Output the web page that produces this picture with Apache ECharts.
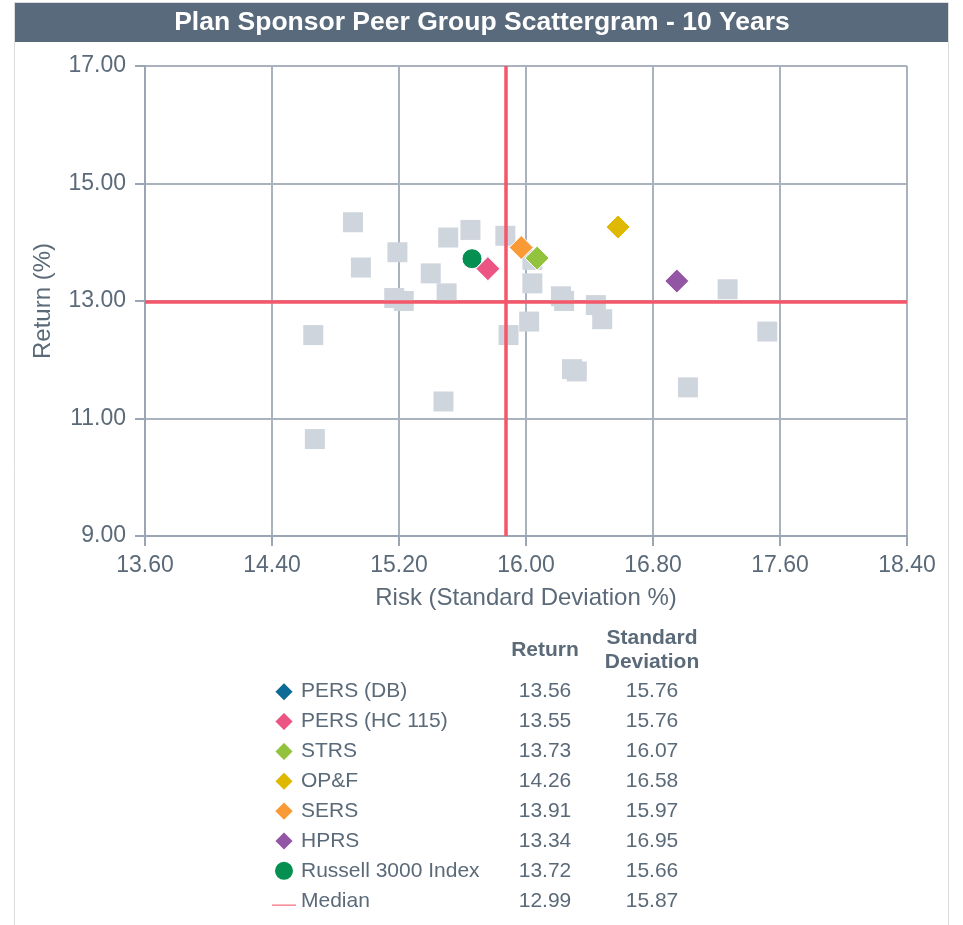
<!DOCTYPE html>
<html>
<head>
<meta charset="utf-8">
<script src="https://cdn.jsdelivr.net/npm/echarts@6/dist/echarts.min.js"></script>
<style>
html,body{margin:0;padding:0;background:#fff;}
#chart{width:963px;height:925px;}
</style>
</head>
<body>
<div id="chart"></div>
<script>
// ---- data ----
const titleText = 'Plan Sponsor Peer Group Scattergram - 10 Years';
const xAxisName = 'Risk (Standard Deviation %)';
const yAxisName = 'Return (%)';
const xTicks = [13.6, 14.4, 15.2, 16.0, 16.8, 17.6, 18.4];
const yTicks = [9, 11, 13, 15, 17];

const names = ['PERS (DB)', 'PERS (HC 115)', 'STRS', 'OP&F', 'SERS', 'HPRS', 'Russell 3000 Index'];
const returns = [13.56, 13.55, 13.73, 14.26, 13.91, 13.34, 13.72];
const stdDevs = [15.76, 15.76, 16.07, 16.58, 15.97, 16.95, 15.66];
const symbols = ['diamond', 'diamond', 'diamond', 'diamond', 'diamond', 'diamond', 'circle'];
const colors = ['#0d6b96', '#ec5484', '#93c23c', '#dfb800', '#fa9a35', '#9356a5', '#058f50'];
const drawOrder = [6, 0, 1, 4, 2, 3, 5];

const medianName = 'Median';
const medianReturn = 12.99;
const medianStd = 15.87;

const peerRisk = [14.91, 14.96, 15.19, 15.17, 15.23, 15.40, 15.51, 15.65, 15.50, 15.87, 16.04, 16.04, 16.22, 16.24, 16.44, 16.48, 16.02, 15.89, 16.29, 16.32, 17.02, 17.27, 17.52, 14.66, 15.48, 14.67];
const peerReturn = [14.34, 13.57, 13.83, 13.05, 13.00, 13.47, 14.08, 14.21, 13.13, 14.11, 13.70, 13.30, 13.08, 13.00, 12.93, 12.69, 12.65, 12.42, 11.84, 11.80, 11.53, 13.20, 12.48, 12.42, 11.29, 10.65];

const tableHeaders = ['Return', 'Standard\nDeviation'];

// ---- styles ----
const textColor = '#5b6a79';
const gridColor = '#aab2be';
const axisColor = '#9aa6b4';
const medianColor = '#f4566a';
const font = 'Liberation Sans, Arial, Helvetica, sans-serif';
const legendIcons = {
  diamond: 'path://M8,0L16,8L8,16L0,8Z',
  circle: 'path://M8,0A8,8,0,1,1,7.99,0Z'
};

const series = [];
series.push({
  name: 'Peer Group',
  type: 'scatter',
  symbol: 'rect',
  symbolSize: 20,
  itemStyle: { color: '#cfd5dd', opacity: 1 },
  emphasis: { disabled: true },
  data: peerRisk.map((r, i) => [r, peerReturn[i]]),
  z: 2
});
series.push({
  name: medianName,
  type: 'scatter',
  data: [],
  itemStyle: { color: medianColor, opacity: 1 },
  z: 3,
  markLine: {
    silent: true,
    symbol: ['none', 'none'],
    label: { show: false },
    lineStyle: { color: medianColor, width: 3.5, type: 'solid', opacity: 1 },
    data: [{ xAxis: medianStd }, { yAxis: medianReturn }],
    z: 3
  }
});
drawOrder.forEach(i => {
  series.push({
    name: names[i],
    type: 'scatter',
    symbol: symbols[i],
    symbolSize: symbols[i] === 'circle' ? 20 : 24,
    itemStyle: { color: colors[i], borderColor: '#ffffff', borderWidth: 1, opacity: 1 },
    emphasis: { disabled: true },
    data: [[stdDevs[i], returns[i]]],
    z: 4
  });
});

const legendData = names.map((n, i) => ({ name: n, icon: legendIcons[symbols[i]], itemStyle: { color: colors[i], opacity: 1 } }));
legendData.push({
  name: medianName,
  icon: 'path://M12,-9L12,-9Z M0,0L24,0L24,1.3L0,1.3Z',
  itemStyle: { color: '#f47080', opacity: 1 }
});

// table graphic
const rowTop = 691.7;
const rowStep = 29.86;
const colReturnX = 545;
const colStdX = 652;
const graphics = [
  { type: 'rect', shape: { x: 14.5, y: 2.5, width: 934, height: 940 }, style: { fill: 'none', stroke: '#dcdcdc', lineWidth: 1 }, z: 0, silent: true },
  { type: 'rect', shape: { x: 15, y: 3, width: 933, height: 39 }, style: { fill: '#586a7b' }, z: 1, silent: true },
  { type: 'text', x: 482, y: 23, style: { text: titleText, fill: '#ffffff', font: 'bold 26.5px ' + font, align: 'center', verticalAlign: 'middle' }, z: 2 },
  { type: 'text', x: colReturnX, y: 650, style: { text: tableHeaders[0], fill: textColor, font: 'bold 21px ' + font, align: 'center', verticalAlign: 'middle' }, z: 2 },
  { type: 'text', x: colStdX, y: 650, style: { text: tableHeaders[1], fill: textColor, font: 'bold 21px ' + font, align: 'center', verticalAlign: 'middle', lineHeight: 23.5 }, z: 2 }
];
const tableRows = names.map((n, i) => [returns[i], stdDevs[i]]);
tableRows.push([medianReturn, medianStd]);
tableRows.forEach((row, i) => {
  const y = rowTop + i * rowStep;
  graphics.push({ type: 'text', x: colReturnX, y: y, style: { text: row[0].toFixed(2), fill: textColor, font: '21px ' + font, align: 'center', verticalAlign: 'middle' }, z: 2 });
  graphics.push({ type: 'text', x: colStdX, y: y, style: { text: row[1].toFixed(2), fill: textColor, font: '21px ' + font, align: 'center', verticalAlign: 'middle' }, z: 2 });
});

const chart = echarts.init(document.getElementById('chart'), null, { renderer: 'canvas' });
chart.setOption({
  animation: false,
  backgroundColor: '#ffffff',
  textStyle: { fontFamily: font },
  grid: { left: 145, right: 56, top: 66, bottom: 389, containLabel: false },
  xAxis: {
    type: 'value',
    min: xTicks[0],
    max: xTicks[xTicks.length - 1],
    name: xAxisName,
    nameLocation: 'middle',
    nameGap: 50,
    nameTextStyle: { color: textColor, fontSize: 24, fontFamily: font },
    axisLine: { show: true, onZero: false, lineStyle: { color: axisColor, width: 2 } },
    axisTick: { show: true, inside: false, length: 10, customValues: xTicks, lineStyle: { color: axisColor, width: 2 } },
    axisLabel: { customValues: xTicks, color: textColor, fontSize: 23, fontFamily: font, margin: 18, formatter: v => Number(v).toFixed(2) },
    splitLine: { show: true, lineStyle: { color: gridColor, width: 2 } }
  },
  yAxis: {
    type: 'value',
    min: yTicks[0],
    max: yTicks[yTicks.length - 1],
    name: yAxisName,
    nameLocation: 'middle',
    nameGap: 90,
    nameTextStyle: { color: textColor, fontSize: 24, fontFamily: font },
    axisLine: { show: true, onZero: false, lineStyle: { color: axisColor, width: 2 } },
    axisTick: { show: true, inside: false, length: 10, customValues: yTicks, lineStyle: { color: axisColor, width: 2 } },
    axisLabel: { customValues: yTicks, color: textColor, fontSize: 23, fontFamily: font, margin: 19, formatter: v => Number(v).toFixed(2) },
    splitLine: { show: true, lineStyle: { color: gridColor, width: 2 } }
  },
  legend: {
    data: legendData,
    orient: 'vertical',
    left: 267,
    top: 675.7,
    itemWidth: 24,
    itemHeight: 20,
    itemGap: 7.86,
    selectedMode: false,
    textStyle: { color: textColor, fontSize: 21, fontFamily: font, lineHeight: 22 }
  },
  graphic: graphics,
  series: series
});
</script>
</body>
</html>
